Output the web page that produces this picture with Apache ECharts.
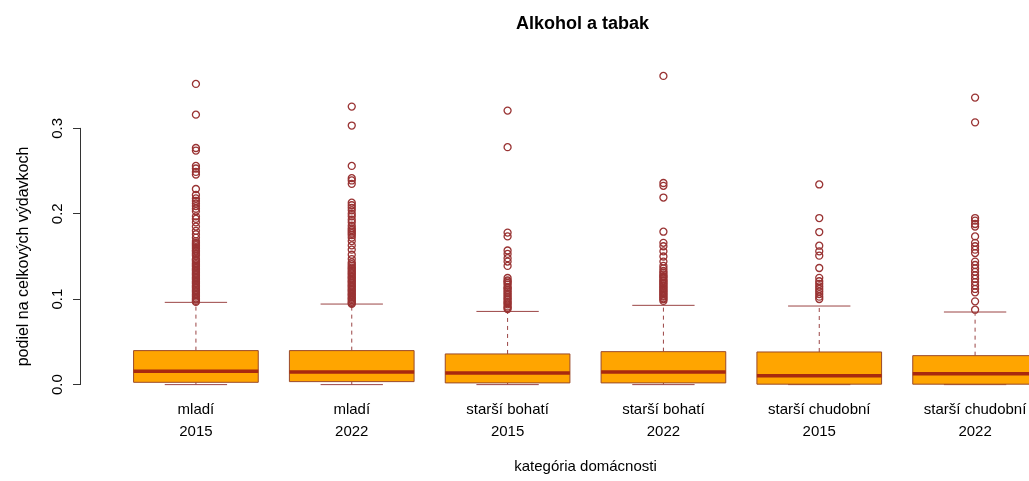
<!DOCTYPE html>
<html>
<head>
<meta charset="utf-8">
<script src="https://cdn.jsdelivr.net/npm/echarts@6/dist/echarts.min.js"></script>
<style>html,body{margin:0;padding:0;background:#fff;}#c{width:1029px;height:481px;}</style>
</head>
<body>
<div id="c"></div>
<script>
// ---- data ----
const groups = ['mladí', 'mladí', 'starší bohatí', 'starší bohatí', 'starší chudobní', 'starší chudobní'];
const years = ['2015', '2022', '2015', '2022', '2015', '2022'];
const lowerWhisker = [0, 0, 0, 0, 0, 0];
const q1 = [0.0027, 0.0035, 0.0020, 0.0020, 0.0005, 0.0005];
const median = [0.0156, 0.0148, 0.0137, 0.0148, 0.0105, 0.0127];
const q3 = [0.0398, 0.0398, 0.0359, 0.0386, 0.0382, 0.0339];
const upperWhisker = [0.0963, 0.0943, 0.0857, 0.0928, 0.0920, 0.0850];
const outliers1 = [0.352, 0.316, 0.277, 0.274, 0.256, 0.253, 0.249, 0.246, 0.229, 0.222, 0.218, 0.215, 0.212, 0.209,
  0.206, 0.203, 0.197, 0.194, 0.190, 0.185, 0.180, 0.176, 0.172, 0.168, 0.166, 0.1645, 0.163, 0.161, 0.159, 0.157,
  0.156, 0.154, 0.1525, 0.151, 0.147, 0.146, 0.1445, 0.1425, 0.141, 0.1395, 0.138, 0.136, 0.1345, 0.133, 0.131,
  0.1295, 0.128, 0.126, 0.1245, 0.123, 0.121, 0.1195, 0.118, 0.116, 0.1145, 0.113, 0.111, 0.1095, 0.108, 0.106,
  0.1045, 0.103, 0.101, 0.0995, 0.098, 0.0968];
const outliers2 = [0.3255, 0.3033, 0.256, 0.2417, 0.239, 0.235, 0.213, 0.210, 0.207, 0.204, 0.200, 0.197, 0.193,
  0.190, 0.186, 0.183, 0.181, 0.179, 0.177, 0.175, 0.172, 0.168, 0.163, 0.158, 0.152, 0.147, 0.143, 0.141, 0.139,
  0.137, 0.1355, 0.134, 0.132, 0.1305, 0.129, 0.127, 0.1255, 0.124, 0.122, 0.1205, 0.119, 0.117, 0.1155, 0.114,
  0.112, 0.1105, 0.109, 0.107, 0.1055, 0.104, 0.102, 0.1005, 0.099, 0.097, 0.0955, 0.0945];
const outliers3 = [0.3208, 0.278, 0.178, 0.1735, 0.157, 0.153, 0.148, 0.144, 0.139, 0.1248, 0.122, 0.1208, 0.119,
  0.117, 0.114, 0.113, 0.111, 0.109, 0.107, 0.105, 0.103, 0.101, 0.0994, 0.097, 0.0955, 0.094, 0.0916, 0.090, 0.0885];
const outliers4 = [0.3614, 0.236, 0.2327, 0.219, 0.179, 0.166, 0.162, 0.156, 0.150, 0.144, 0.139, 0.136, 0.133,
  0.131, 0.129, 0.127, 0.126, 0.124, 0.122, 0.121, 0.119, 0.118, 0.116, 0.115, 0.113, 0.112, 0.110, 0.109, 0.107,
  0.106, 0.104, 0.103, 0.101, 0.100, 0.098];
const outliers5 = [0.2343, 0.195, 0.1786, 0.1626, 0.156, 0.151, 0.1365, 0.125, 0.121, 0.118, 0.115, 0.112, 0.109,
  0.106, 0.103, 0.1002];
const outliers6 = [0.336, 0.307, 0.195, 0.192, 0.188, 0.185, 0.1735, 0.166, 0.162, 0.158, 0.154, 0.144, 0.140,
  0.136, 0.132, 0.128, 0.124, 0.120, 0.116, 0.112, 0.108, 0.0975, 0.0877];
const yTicks = [0, 0.1, 0.2, 0.3];

// ---- build ----
const categories = groups.map((g, i) => g + '\n' + years[i]);
const allOutliers = [outliers1, outliers2, outliers3, outliers4, outliers5, outliers6];
const boxData = categories.map((c, i) => [i, lowerWhisker[i], q1[i], median[i], q3[i], upperWhisker[i]]);
const outlierData = [];
allOutliers.forEach((arr, i) => arr.forEach(v => outlierData.push([i, v])));

const chart = echarts.init(document.getElementById('c'), null, {renderer: 'canvas'});
const FONT = 'Liberation Sans, Arial, sans-serif';

chart.setOption({
  backgroundColor: '#ffffff',
  animation: false,
  title: {
    text: 'Alkohol a tabak', left: 511, top: 10,
    textStyle: {fontFamily: FONT, fontSize: 18, fontWeight: 'bold', color: '#000'}
  },
  grid: [
    {left: 118, width: 935, top: 63, bottom: 84, outerBoundsMode: 'none', containLabel: false},
    {left: 80, width: 10, top: 128.3, bottom: 96.4, outerBoundsMode: 'none', containLabel: false}
  ],
  xAxis: [
    {
      type: 'category', gridIndex: 0, data: categories, boundaryGap: true,
      axisLine: {show: false}, axisTick: {show: false},
      axisLabel: {fontFamily: FONT, fontSize: 15, color: '#000', lineHeight: 22, margin: 2, interval: 0,
        hideOverlap: false},
      name: 'kategória domácnosti', nameLocation: 'middle', nameGap: 62,
      nameTextStyle: {fontFamily: FONT, fontSize: 15, color: '#000'}
    },
    {type: 'value', gridIndex: 1, show: false}
  ],
  yAxis: [
    {type: 'value', gridIndex: 0, min: -0.0145, max: 0.3765, show: false},
    {
      type: 'value', gridIndex: 1, min: 0, max: 0.3, interval: 0.1,
      axisLine: {show: true, lineStyle: {color: '#333', width: 1}},
      axisTick: {show: true, length: 7, lineStyle: {color: '#333'}},
      splitLine: {show: false},
      axisLabel: {fontFamily: FONT, fontSize: 15, color: '#000', rotate: 90, margin: 15,
        formatter: v => v.toFixed(1)},
      name: 'podiel na celkových výdavkoch', nameLocation: 'middle', nameRotate: 90, nameGap: 48,
      nameTextStyle: {fontFamily: FONT, fontSize: 16, color: '#000'}
    }
  ],
  series: [
    {
      type: 'custom', xAxisIndex: 0, yAxisIndex: 0, data: boxData, z: 2, clip: false,
      renderItem: function (params, api) {
        const x = api.value(0);
        const pLow = api.coord([x, api.value(1)]);
        const pQ1 = api.coord([x, api.value(2)]);
        const pMed = api.coord([x, api.value(3)]);
        const pQ3 = api.coord([x, api.value(4)]);
        const pHigh = api.coord([x, api.value(5)]);
        const band = api.size([1, 0])[0];
        const bw = band * 0.8, cw = bw / 2, cx = pMed[0];
        const dash = {stroke: '#9B4545', lineWidth: 1, lineDash: [4, 4]};
        const solid = {stroke: '#9B4545', lineWidth: 1};
        return {
          type: 'group', children: [
            {type: 'line', shape: {x1: cx, y1: pQ3[1], x2: cx, y2: pHigh[1]}, style: dash},
            {type: 'line', shape: {x1: cx, y1: pQ1[1], x2: cx, y2: pLow[1]}, style: dash},
            {type: 'line', shape: {x1: cx - cw / 2, y1: pHigh[1], x2: cx + cw / 2, y2: pHigh[1]}, style: solid},
            {type: 'line', shape: {x1: cx - cw / 2, y1: pLow[1], x2: cx + cw / 2, y2: pLow[1]}, style: solid},
            {type: 'rect', shape: {x: cx - bw / 2, y: pQ3[1], width: bw, height: pQ1[1] - pQ3[1]},
              style: {fill: '#FFA500', stroke: '#9A4A2A', lineWidth: 1}},
            {type: 'line', shape: {x1: cx - bw / 2, y1: pMed[1], x2: cx + bw / 2, y2: pMed[1]},
              style: {stroke: '#A8290F', lineWidth: 3.5}}
          ]
        };
      }
    },
    {
      type: 'scatter', xAxisIndex: 0, yAxisIndex: 0, data: outlierData, z: 3,
      symbol: 'circle', symbolSize: 7,
      itemStyle: {color: 'rgba(0,0,0,0)', borderColor: '#993333', borderWidth: 1.3, opacity: 1}
    }
  ]
});
</script>
</body>
</html>
